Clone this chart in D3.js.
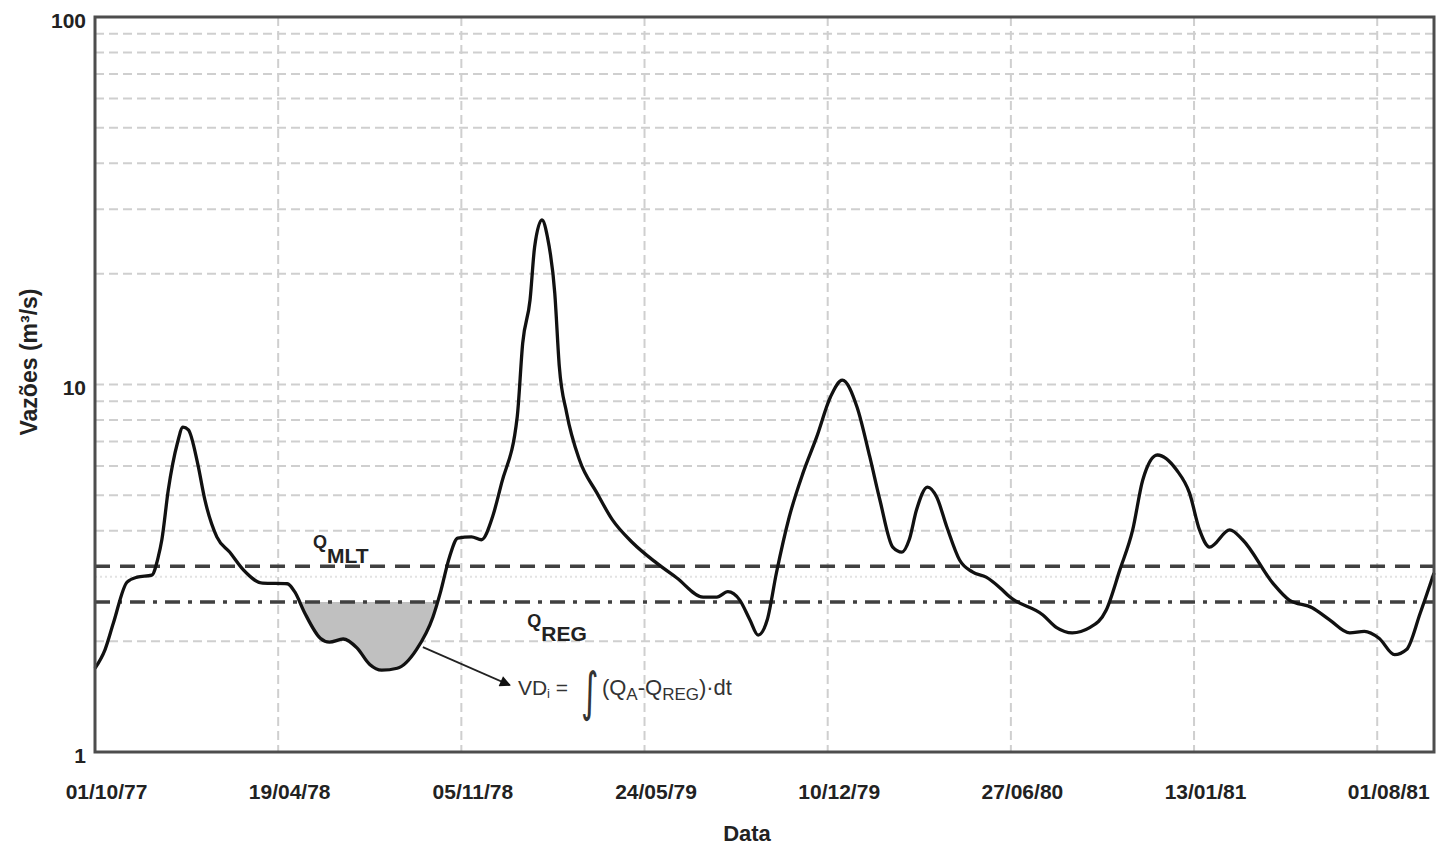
<!DOCTYPE html>
<html><head><meta charset="utf-8">
<script src="https://cdn.jsdelivr.net/npm/d3@7"></script>
<style>
body{margin:0;background:#fff}
svg{display:block}
text{font-family:"Liberation Sans",Arial,Helvetica,sans-serif}
</style>
</head><body>
<svg id="chart" width="1437" height="846"></svg>
<script>
// ---------------- DATA ----------------
const startDate = "1977-10-01";
const endDay = 1462;                                   // days after start at the right edge
const xTickDays = [0, 200, 400, 600, 800, 1000, 1200, 1400];
const yTickValues = [1, 10, 100];
const yGridValues = [2, 3, 4, 5, 6, 7, 8, 9, 10, 20, 30, 40, 50, 60, 70, 80, 90];

// days after 01/10/77
const days = [0, 11, 20, 35, 46, 62, 69, 73, 80, 90, 96, 102, 112, 120, 133, 147, 162, 183, 210, 218,
  229, 246, 256, 271, 286, 300, 313, 330, 351, 369, 377, 387, 396, 411, 422, 434, 444, 461, 467, 475,
  480, 488, 494, 502, 507, 515, 529, 548, 565, 587, 613, 635, 664, 679, 691, 704, 715, 724, 734, 744,
  758, 773, 788, 803, 816, 832, 846, 857, 871, 881, 889, 897, 909, 919, 930, 944, 958, 973, 988, 999,
  1035, 1050, 1067, 1086, 1104, 1119, 1133, 1144, 1160, 1181, 1195, 1206, 1217, 1239, 1253, 1286, 1304, 1329, 1348, 1370,
  1386, 1402, 1419, 1432, 1447, 1462];
// flows (m³/s)
const flows = [1.69, 1.90, 2.24, 2.90, 2.99, 3.03, 3.39, 3.78, 5.16, 6.93, 7.66, 7.52, 6.11, 4.85, 3.85, 3.50, 3.13, 2.88, 2.87, 2.73,
  2.39, 2.04, 1.99, 2.03, 1.92, 1.73, 1.67, 1.69, 1.90, 2.33, 2.71, 3.39, 3.82, 3.85, 3.78, 4.36, 5.40, 8.16, 12.97, 16.98,
  23.67, 28.03, 25.2, 17.74, 11.16, 8.36, 6.23, 5.07, 4.28, 3.71, 3.27, 2.98, 2.64, 2.64, 2.73, 2.59, 2.29, 2.08, 2.29, 3.07,
  4.36, 5.74, 7.20, 9.25, 10.28, 8.69, 6.35, 4.85, 3.61, 3.50, 3.78, 4.56, 5.26, 4.94, 4.10, 3.33, 3.09, 2.99, 2.80, 2.64,
  2.36, 2.18, 2.11, 2.18, 2.43, 3.13, 4.02, 5.50, 6.43, 5.85, 5.07, 4.02, 3.61, 4.02, 3.78, 2.88, 2.59, 2.47, 2.29, 2.11,
  2.13, 2.04, 1.84, 1.90, 2.39, 3.07];

const qMLT = 3.2;
const qREG = 2.56;
const deficitWindow = [205, 390];                      // days bounding the shaded deficit
const arrowFrom = {day: 358, q: 1.93};
const arrowTo = {day: 453, q: 1.52};
const labelMLTDay = 238;
const labelREGDay = 472;

// ---------------- CHART ----------------
const m = {l: 95, t: 17, r: 1434, b: 752};
const svg = d3.select("#chart");
const t0 = d3.utcParse("%Y-%m-%d")(startDate);
const toDate = d => d3.utcDay.offset(t0, d);

const x = d3.scaleUtc().domain([t0, toDate(endDay)]).range([m.l, m.r]);
const y = d3.scaleLog().domain([1, 100]).range([m.b, m.t]);

const data = days.map((d, i) => ({date: toDate(d), q: flows[i]}));

// grid
const grid = svg.append("g");
grid.selectAll("line.h").data(yGridValues).join("line")
  .attr("x1", m.l).attr("x2", m.r)
  .attr("y1", d => y(d)).attr("y2", d => y(d))
  .attr("stroke", d => d === 3 ? "#e2e2e2" : "#cfcfcf")
  .attr("stroke-width", 2)
  .attr("stroke-dasharray", d => d === 3 ? "2,3" : "9,5");
grid.selectAll("line.v").data(xTickDays.filter(d => d > 0)).join("line")
  .attr("x1", d => x(toDate(d))).attr("x2", d => x(toDate(d)))
  .attr("y1", m.t).attr("y2", m.b)
  .attr("stroke", "#cfcfcf").attr("stroke-width", 2).attr("stroke-dasharray", "9,5");

// deficit fill
svg.append("clipPath").attr("id", "defclip").append("rect")
  .attr("x", x(toDate(deficitWindow[0]))).attr("width", x(toDate(deficitWindow[1])) - x(toDate(deficitWindow[0])))
  .attr("y", y(qREG)).attr("height", m.b - y(qREG));
const curve = d3.curveMonotoneX;
svg.append("path").datum(data)
  .attr("clip-path", "url(#defclip)")
  .attr("fill", "#c0c0c0")
  .attr("d", d3.area().curve(curve).x(d => x(d.date)).y0(m.t).y1(d => y(d.q)));

// reference lines
svg.append("line").attr("x1", m.l).attr("x2", m.r).attr("y1", y(qMLT)).attr("y2", y(qMLT))
  .attr("stroke", "#404040").attr("stroke-width", 3.5).attr("stroke-dasharray", "15,10");
svg.append("line").attr("x1", m.l).attr("x2", m.r).attr("y1", y(qREG)).attr("y2", y(qREG))
  .attr("stroke", "#404040").attr("stroke-width", 3.5).attr("stroke-dasharray", "15,8,4,8");

// flow line
svg.append("path").datum(data)
  .attr("fill", "none").attr("stroke", "#111").attr("stroke-width", 3.3).attr("stroke-linejoin", "round")
  .attr("d", d3.line().curve(curve).x(d => x(d.date)).y(d => y(d.q)));

// frame
svg.append("rect").attr("x", m.l).attr("y", m.t).attr("width", m.r - m.l).attr("height", m.b - m.t)
  .attr("fill", "none").attr("stroke", "#4d4d4d").attr("stroke-width", 3);

// axes
const fmt = d3.utcFormat("%d/%m/%y");
const xAxis = svg.append("g").attr("transform", `translate(0,${m.b})`)
  .call(d3.axisBottom(x).tickValues(xTickDays.map(toDate)).tickSize(0).tickFormat(fmt));
xAxis.select(".domain").remove();
xAxis.selectAll("text").attr("y", 47).attr("dy", 0).attr("dx", 11)
  .attr("font-size", 21).attr("font-weight", "bold").attr("fill", "#222")
  .style("font-family", '"Liberation Sans",Arial,sans-serif');

const yAxis = svg.append("g").attr("transform", `translate(${m.l},0)`)
  .call(d3.axisLeft(y).tickValues(yTickValues).tickSize(0).tickFormat(d3.format("d")));
yAxis.select(".domain").remove();
yAxis.selectAll("text").attr("x", -9).attr("dy", 10)
  .attr("font-size", 21).attr("font-weight", "bold").attr("fill", "#222")
  .style("font-family", '"Liberation Sans",Arial,sans-serif');

// titles
svg.append("text").attr("x", 747).attr("y", 841).attr("text-anchor", "middle")
  .attr("font-size", 22).attr("font-weight", "bold").attr("fill", "#222").text("Data");
svg.append("text").attr("transform", "translate(37,362) rotate(-90)").attr("text-anchor", "middle")
  .attr("font-size", 23).attr("font-weight", "bold").attr("fill", "#222").text("Vazões (m³/s)");

// Q labels
const lm = svg.append("text").attr("x", x(toDate(labelMLTDay))).attr("y", y(qMLT) - 18)
  .attr("font-weight", "bold").attr("fill", "#222");
lm.append("tspan").attr("font-size", 18).text("Q");
lm.append("tspan").attr("font-size", 21).attr("dy", 15).text("MLT");
const lr = svg.append("text").attr("x", x(toDate(labelREGDay))).attr("y", y(qREG) + 25)
  .attr("font-weight", "bold").attr("fill", "#222");
lr.append("tspan").attr("font-size", 18).text("Q");
lr.append("tspan").attr("font-size", 21).attr("dy", 14).text("REG");

// arrow
svg.append("defs").append("marker").attr("id", "ah")
  .attr("viewBox", "0 0 10 10").attr("refX", 9).attr("refY", 5)
  .attr("markerWidth", 15).attr("markerHeight", 11).attr("markerUnits", "userSpaceOnUse")
  .attr("orient", "auto")
  .append("path").attr("d", "M0,0 L10,5 L0,10 Z").attr("fill", "#111");
const ax1 = x(toDate(arrowFrom.day)), ay1 = y(arrowFrom.q);
const ax2 = x(toDate(arrowTo.day)), ay2 = y(arrowTo.q);
svg.append("line").attr("x1", ax1).attr("y1", ay1).attr("x2", ax2).attr("y2", ay2)
  .attr("stroke", "#222").attr("stroke-width", 1.8).attr("marker-end", "url(#ah)");

// formula
const fx = ax2 + 8, fy = ay2 + 10;
const f1 = svg.append("text").attr("x", fx).attr("y", fy).attr("font-size", 21).attr("fill", "#333");
f1.append("tspan").text("VD");
f1.append("tspan").attr("font-size", 13).attr("dy", 3).text("i");
f1.append("tspan").attr("dy", -3).text(" =");
svg.append("text").attr("transform", `translate(${fx + 63},${fy + 15}) scale(0.7,1.1)`)
  .attr("font-size", 48).attr("fill", "#333")
  .style("font-family", '"DejaVu Sans",sans-serif').text("∫");
const f2 = svg.append("text").attr("x", fx + 84).attr("y", fy).attr("font-size", 22).attr("fill", "#333");
f2.append("tspan").text("(Q");
f2.append("tspan").attr("font-size", 17).attr("dy", 5).text("A");
f2.append("tspan").attr("dy", -5).text("-Q");
f2.append("tspan").attr("font-size", 17).attr("dy", 5).text("REG");
f2.append("tspan").attr("dy", -5).text(")·dt");
</script>
</body></html>
